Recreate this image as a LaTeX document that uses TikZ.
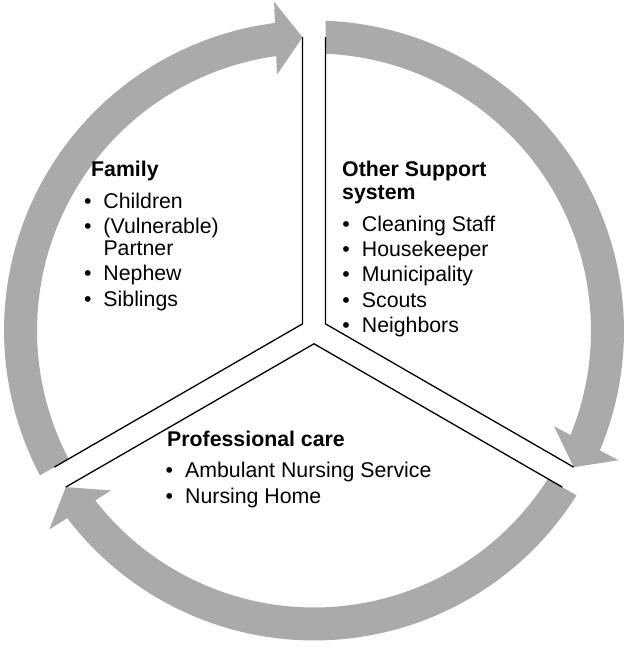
\documentclass[tikz,border=0pt]{standalone}
\usepackage{fontspec}
\setmainfont{Liberation Sans}
\usetikzlibrary{calc}
\definecolor{ringgray}{RGB}{170,170,170}
\tikzset{
  txt/.style={anchor=base west, inner sep=0pt, font=\fontsize{21.3pt}{25pt}\selectfont},
  headtxt/.style={anchor=base west, inner sep=0pt, font=\fontsize{21.3pt}{25pt}\selectfont\bfseries},
  ringarrow/.style={fill=ringgray, draw=none},
  divider/.style={draw=black, line width=1.3pt, line join=miter}
}
\newcommand{\bul}[1]{\makebox[19.5pt][l]{•}#1}
\begin{document}
\begin{tikzpicture}[x=1pt,y=1pt]
\useasboundingbox (0,0) rectangle (630,647);
\coordinate (C) at (314,316.5);
% ring arrows (three identical, rotated by 120 degrees)
\foreach \t in {92.245,-27.755,-147.755}{
  \fill[ringarrow, shift={(314,316.5)}, rotate=\t]
    (115.629:310) arc[start angle=115.629, end angle=4.997, radius=310]
    -- (330,27) -- (293.5,0) -- (257,27) -- (5.594:277)
    arc[start angle=5.594, end angle=115.376, radius=277] -- cycle;
}
% divider coordinates
\coordinate (E1) at ($(C)+(92.245:293.5)$);
\coordinate (E2) at ($(C)+(87.755:293.5)$);
\coordinate (E3) at ($(C)+(207.755:293.5)$);
\coordinate (E4) at ($(C)+(212.245:293.5)$);
\coordinate (E5) at ($(C)+(-27.755:293.5)$);
\coordinate (E6) at ($(C)+(-32.245:293.5)$);
\coordinate (J1) at ($(C)+(150:13.28)$);
\coordinate (J2) at ($(C)+(30:13.28)$);
\coordinate (J3) at ($(C)+(270:13.28)$);
\draw[divider] (E1) -- (J1) -- (E3);
\draw[divider] (E2) -- (J2) -- (E5);
\draw[divider] (E4) -- (J3) -- (E6);
% Family
\node[headtxt] (famh) at (91,470) {Family};
\node[txt] (fam1) at (83.8,438.7) {\bul{Children}};
\node[txt] (fam2) at (83.8,413.7) {\bul{(Vulnerable)}};
\node[txt] (fam2b) at (103.3,391) {Partner};
\node[txt] (fam3) at (83.8,366) {\bul{Nephew}};
\node[txt] (fam4) at (83.8,340.3) {\bul{Siblings}};
% Other support system
\node[headtxt] (osh) at (342,470) {Other Support};
\node[headtxt] (osh2) at (342,447) {system};
\node[txt] (os1) at (342.2,415.5) {\bul{Cleaning Staff}};
\node[txt] (os2) at (342.2,390.3) {\bul{Housekeeper}};
\node[txt] (os3) at (342.2,365.3) {\bul{Municipality}};
\node[txt] (os4) at (342.2,339.7) {\bul{Scouts}};
\node[txt] (os5) at (342.2,314.3) {\bul{Neighbors}};
% Professional care
\node[headtxt] (pch) at (167,200) {Professional care};
\node[txt] (pc1) at (165.5,169) {\bul{Ambulant Nursing Service}};
\node[txt] (pc2) at (165.5,143.5) {\bul{Nursing Home}};
\end{tikzpicture}
\end{document}
